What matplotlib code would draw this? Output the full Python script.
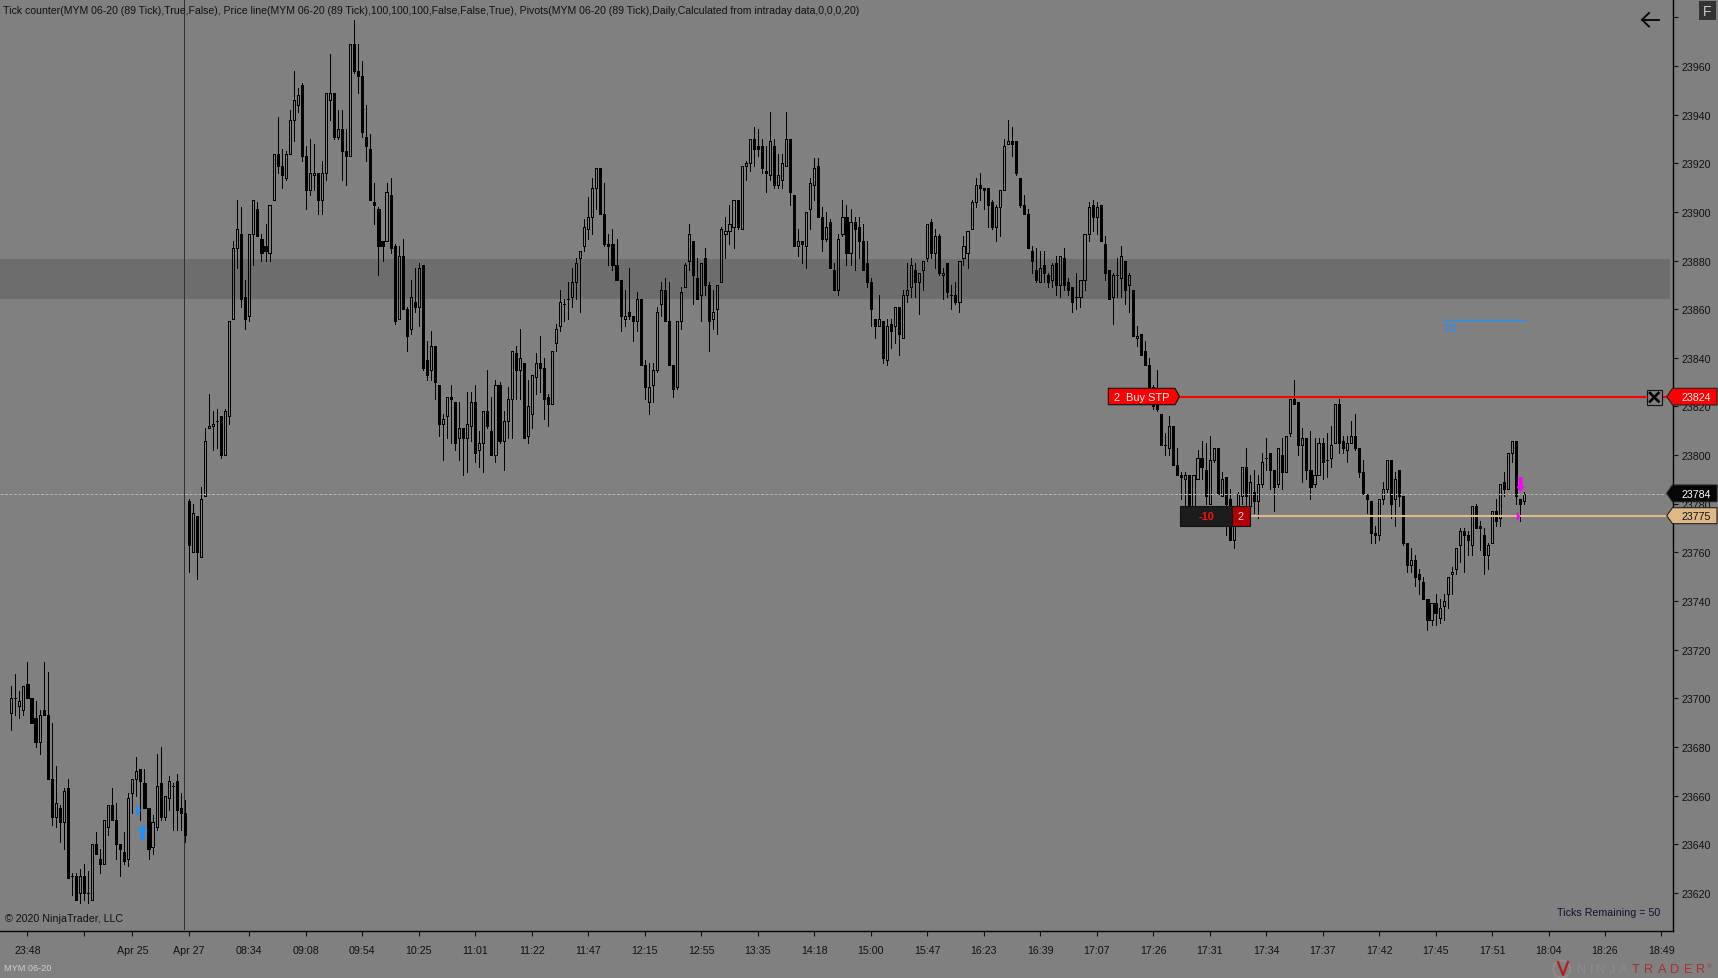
import numpy as np
import matplotlib
matplotlib.use("Agg")
import matplotlib.pyplot as plt
from matplotlib.path import Path
from matplotlib.patches import Polygon, Rectangle, Circle

plt.rcParams["font.family"] = ["Liberation Sans", "DejaVu Sans"]

# MYM 06-20 (89 Tick) candles
opens = [
    23694, 23700, 23697, 23695, 23706, 23700, 23692, 23682, 23695, 23693,
    23667, 23651, 23655, 23649, 23663, 23627, 23627, 23620, 23627, 23620,
    23617, 23640, 23634, 23632, 23647, 23656, 23650, 23640, 23637, 23634,
    23661, 23667, 23671, 23665, 23655, 23639, 23647, 23665, 23651, 23659,
    23664, 23666, 23655, 23653, 23781, 23760, 23775, 23758, 23783, 23811,
    23812, 23814, 23816, 23800, 23816, 23856, 23885, 23891, 23865, 23857,
    23891, 23901, 23889, 23886, 23883, 23905, 23924, 23919, 23914, 23924,
    23938, 23944, 23952, 23923, 23909, 23915, 23916, 23905, 23916, 23946,
    23949, 23931, 23934, 23925, 23923, 23969, 23958, 23956, 23931, 23926,
    23904, 23901, 23888, 23888, 23907, 23886, 23856, 23882, 23860, 23852,
    23863, 23861, 23878, 23839, 23835, 23845, 23829, 23813, 23816, 23824,
    23822, 23807, 23811, 23807, 23812, 23822, 23802, 23805, 23818, 23810,
    23800, 23829, 23806, 23814, 23823, 23842, 23835, 23838, 23808, 23817,
    23832, 23838, 23836, 23824, 23821, 23846, 23853, 23862, 23864, 23865,
    23871, 23881, 23886, 23893, 23898, 23910, 23918, 23899, 23887, 23887,
    23878, 23872, 23856, 23859, 23857, 23855, 23864, 23837, 23822, 23829,
    23835, 23862, 23868, 23855, 23837, 23828, 23855, 23869, 23880, 23888,
    23873, 23866, 23881, 23870, 23856, 23860, 23871, 23891, 23892, 23894,
    23905, 23893, 23919, 23920, 23930, 23927, 23927, 23917, 23915, 23927,
    23911, 23913, 23919, 23930, 23907, 23886, 23888, 23886, 23901, 23911,
    23919, 23898, 23889, 23896, 23876, 23868, 23891, 23898, 23883, 23896,
    23894, 23888, 23879, 23871, 23856, 23853, 23855, 23839, 23854, 23853,
    23861, 23848, 23866, 23869, 23876, 23871, 23876, 23881, 23896, 23883,
    23890, 23874, 23879, 23866, 23866, 23863, 23881, 23883, 23893, 23904,
    23911, 23910, 23910, 23904, 23894, 23902, 23909, 23928, 23929, 23929,
    23914, 23903, 23899, 23884, 23876, 23871, 23878, 23874, 23872, 23879,
    23870, 23881, 23871, 23869, 23865, 23865, 23872, 23891, 23903, 23898,
    23903, 23887, 23876, 23865, 23874, 23873, 23880, 23870, 23868, 23848,
    23850, 23843, 23837, 23828, 23821, 23817, 23804, 23803, 23812, 23796,
    23792, 23790, 23792, 23779, 23790, 23799, 23794, 23780, 23798, 23803,
    23783, 23791, 23782, 23765, 23779, 23783, 23795, 23779, 23785, 23781,
    23788, 23799, 23801, 23794, 23788, 23800, 23793, 23809, 23823, 23822,
    23804, 23807, 23794, 23788, 23792, 23805, 23798, 23799, 23805, 23821,
    23806, 23802, 23805, 23808, 23803, 23793, 23784, 23781, 23768, 23767,
    23782, 23786, 23798, 23782, 23794, 23783, 23764, 23755, 23757, 23751,
    23748, 23741, 23732, 23739, 23733, 23738, 23743, 23751, 23753, 23763,
    23769, 23767, 23763, 23779, 23771, 23767, 23759, 23764, 23777, 23774,
    23789, 23786, 23801, 23806, 23782, 23781,
]
highs = [
    23705, 23710, 23703, 23705, 23715, 23700, 23699, 23695, 23715, 23711,
    23690, 23672, 23656, 23663, 23667, 23628, 23628, 23630, 23632, 23629,
    23640, 23645, 23638, 23650, 23656, 23663, 23657, 23640, 23645, 23661,
    23667, 23676, 23671, 23671, 23655, 23652, 23677, 23680, 23660, 23668,
    23665, 23669, 23661, 23658, 23782, 23780, 23775, 23787, 23811, 23825,
    23818, 23819, 23816, 23819, 23855, 23888, 23905, 23902, 23872, 23891,
    23905, 23904, 23891, 23895, 23903, 23924, 23939, 23926, 23925, 23942,
    23958, 23951, 23953, 23927, 23930, 23928, 23916, 23921, 23949, 23965,
    23949, 23942, 23942, 23934, 23969, 23979, 23969, 23962, 23944, 23932,
    23912, 23902, 23888, 23912, 23914, 23887, 23886, 23889, 23861, 23872,
    23877, 23879, 23878, 23847, 23851, 23845, 23829, 23817, 23824, 23829,
    23822, 23822, 23811, 23826, 23826, 23829, 23810, 23818, 23835, 23824,
    23831, 23830, 23818, 23828, 23843, 23845, 23852, 23838, 23831, 23833,
    23842, 23849, 23840, 23825, 23843, 23854, 23868, 23864, 23871, 23877,
    23881, 23884, 23897, 23906, 23914, 23918, 23918, 23912, 23891, 23893,
    23889, 23872, 23868, 23877, 23857, 23867, 23864, 23839, 23838, 23838,
    23861, 23871, 23873, 23871, 23837, 23855, 23869, 23879, 23895, 23888,
    23881, 23879, 23885, 23871, 23868, 23870, 23894, 23898, 23903, 23905,
    23905, 23919, 23921, 23930, 23935, 23934, 23930, 23927, 23941, 23930,
    23924, 23924, 23941, 23930, 23907, 23893, 23888, 23900, 23914, 23922,
    23922, 23902, 23900, 23897, 23879, 23891, 23905, 23903, 23901, 23898,
    23898, 23895, 23888, 23873, 23856, 23866, 23855, 23856, 23856, 23861,
    23861, 23868, 23879, 23881, 23879, 23875, 23880, 23895, 23897, 23893,
    23891, 23877, 23879, 23870, 23871, 23880, 23890, 23892, 23905, 23914,
    23916, 23910, 23910, 23905, 23903, 23909, 23930, 23938, 23935, 23929,
    23914, 23907, 23901, 23886, 23885, 23884, 23884, 23875, 23879, 23882,
    23882, 23885, 23873, 23869, 23875, 23872, 23891, 23904, 23905, 23904,
    23903, 23890, 23876, 23875, 23881, 23886, 23880, 23875, 23868, 23853,
    23850, 23847, 23840, 23829, 23835, 23817, 23809, 23816, 23812, 23803,
    23793, 23793, 23792, 23792, 23802, 23806, 23805, 23808, 23803, 23803,
    23793, 23791, 23786, 23778, 23785, 23795, 23803, 23792, 23794, 23792,
    23801, 23807, 23801, 23794, 23803, 23807, 23808, 23823, 23831, 23822,
    23811, 23807, 23810, 23807, 23807, 23807, 23809, 23812, 23821, 23823,
    23808, 23808, 23814, 23817, 23803, 23798, 23784, 23781, 23771, 23782,
    23789, 23798, 23798, 23793, 23794, 23783, 23764, 23762, 23759, 23753,
    23750, 23741, 23739, 23743, 23741, 23743, 23750, 23754, 23762, 23770,
    23770, 23769, 23779, 23780, 23773, 23770, 23764, 23777, 23782, 23788,
    23793, 23801, 23806, 23806, 23782, 23785,
]
lows = [
    23687, 23693, 23692, 23693, 23700, 23690, 23680, 23677, 23693, 23667,
    23648, 23647, 23641, 23638, 23626, 23619, 23617, 23616, 23617, 23616,
    23617, 23636, 23628, 23632, 23644, 23650, 23634, 23627, 23632, 23631,
    23653, 23660, 23650, 23655, 23634, 23636, 23646, 23650, 23650, 23654,
    23646, 23646, 23646, 23641, 23752, 23760, 23749, 23758, 23783, 23811,
    23802, 23803, 23799, 23800, 23813, 23856, 23877, 23861, 23852, 23855,
    23878, 23890, 23880, 23880, 23880, 23905, 23916, 23910, 23913, 23924,
    23929, 23941, 23921, 23901, 23907, 23909, 23899, 23899, 23913, 23938,
    23930, 23930, 23913, 23911, 23923, 23957, 23949, 23931, 23921, 23905,
    23895, 23874, 23880, 23888, 23883, 23854, 23856, 23860, 23843, 23850,
    23859, 23853, 23835, 23831, 23831, 23823, 23808, 23798, 23807, 23805,
    23802, 23798, 23792, 23793, 23806, 23797, 23795, 23793, 23811, 23800,
    23797, 23805, 23794, 23807, 23807, 23823, 23823, 23807, 23805, 23811,
    23825, 23826, 23815, 23812, 23821, 23843, 23851, 23855, 23856, 23861,
    23864, 23859, 23884, 23889, 23891, 23901, 23899, 23886, 23878, 23876,
    23872, 23851, 23853, 23856, 23847, 23851, 23837, 23823, 23817, 23822,
    23834, 23857, 23855, 23837, 23824, 23827, 23852, 23869, 23876, 23862,
    23864, 23855, 23866, 23843, 23852, 23850, 23871, 23881, 23887, 23885,
    23893, 23893, 23913, 23917, 23919, 23923, 23916, 23908, 23913, 23910,
    23910, 23910, 23919, 23903, 23886, 23882, 23879, 23877, 23893, 23905,
    23898, 23884, 23888, 23877, 23868, 23866, 23890, 23878, 23878, 23876,
    23881, 23876, 23869, 23853, 23848, 23853, 23838, 23837, 23844, 23846,
    23841, 23848, 23863, 23865, 23865, 23858, 23868, 23880, 23881, 23877,
    23874, 23864, 23865, 23860, 23862, 23859, 23878, 23877, 23893, 23902,
    23905, 23901, 23894, 23893, 23888, 23890, 23909, 23928, 23923, 23915,
    23902, 23899, 23885, 23875, 23871, 23871, 23871, 23869, 23869, 23866,
    23865, 23868, 23866, 23859, 23860, 23861, 23868, 23888, 23892, 23891,
    23888, 23872, 23864, 23854, 23865, 23865, 23862, 23859, 23849, 23845,
    23841, 23837, 23828, 23819, 23818, 23804, 23800, 23800, 23796, 23792,
    23782, 23779, 23779, 23779, 23790, 23790, 23780, 23780, 23797, 23784,
    23783, 23767, 23765, 23762, 23778, 23780, 23778, 23778, 23776, 23774,
    23787, 23794, 23786, 23777, 23787, 23786, 23793, 23808, 23821, 23800,
    23789, 23790, 23782, 23787, 23792, 23790, 23791, 23795, 23805, 23801,
    23801, 23797, 23805, 23802, 23791, 23784, 23776, 23764, 23764, 23765,
    23780, 23785, 23774, 23771, 23779, 23763, 23752, 23752, 23746, 23743,
    23741, 23728, 23730, 23730, 23731, 23732, 23737, 23743, 23751, 23756,
    23752, 23759, 23759, 23770, 23761, 23751, 23753, 23764, 23771, 23771,
    23783, 23786, 23797, 23780, 23773, 23780,
]
closes = [
    23700, 23700, 23699, 23705, 23700, 23690, 23682, 23693, 23693, 23667,
    23651, 23657, 23649, 23662, 23626, 23627, 23617, 23627, 23620, 23620,
    23640, 23636, 23632, 23650, 23656, 23650, 23640, 23638, 23633, 23659,
    23667, 23670, 23666, 23655, 23638, 23649, 23664, 23651, 23660, 23666,
    23664, 23654, 23653, 23644, 23763, 23776, 23760, 23782, 23806, 23812,
    23813, 23814, 23800, 23818, 23855, 23885, 23893, 23864, 23856, 23891,
    23905, 23890, 23883, 23884, 23903, 23924, 23919, 23915, 23924, 23938,
    23946, 23948, 23923, 23909, 23916, 23916, 23905, 23916, 23949, 23949,
    23931, 23934, 23925, 23923, 23969, 23958, 23956, 23933, 23927, 23905,
    23903, 23886, 23886, 23908, 23885, 23855, 23882, 23860, 23849, 23865,
    23861, 23877, 23836, 23833, 23845, 23830, 23813, 23815, 23824, 23823,
    23805, 23811, 23807, 23813, 23822, 23801, 23805, 23818, 23812, 23800,
    23829, 23806, 23814, 23823, 23843, 23835, 23840, 23807, 23820, 23833,
    23838, 23836, 23823, 23821, 23843, 23852, 23863, 23862, 23864, 23871,
    23879, 23884, 23894, 23898, 23910, 23918, 23899, 23887, 23886, 23878,
    23872, 23857, 23857, 23857, 23855, 23864, 23837, 23828, 23828, 23835,
    23859, 23868, 23855, 23837, 23827, 23855, 23867, 23878, 23891, 23874,
    23864, 23879, 23870, 23855, 23859, 23870, 23893, 23892, 23895, 23905,
    23894, 23919, 23920, 23930, 23926, 23926, 23918, 23916, 23929, 23911,
    23915, 23920, 23930, 23908, 23886, 23888, 23887, 23900, 23912, 23918,
    23898, 23889, 23894, 23877, 23868, 23889, 23898, 23883, 23896, 23893,
    23888, 23876, 23871, 23860, 23853, 23856, 23840, 23853, 23851, 23861,
    23850, 23866, 23868, 23878, 23871, 23875, 23880, 23895, 23883, 23890,
    23875, 23875, 23867, 23866, 23863, 23880, 23886, 23892, 23904, 23911,
    23910, 23909, 23903, 23894, 23902, 23909, 23927, 23929, 23928, 23916,
    23903, 23899, 23885, 23880, 23872, 23877, 23875, 23871, 23878, 23870,
    23882, 23870, 23868, 23863, 23865, 23872, 23891, 23902, 23898, 23902,
    23888, 23875, 23864, 23874, 23874, 23882, 23868, 23874, 23849, 23849,
    23841, 23837, 23828, 23820, 23819, 23804, 23804, 23812, 23796, 23792,
    23791, 23792, 23779, 23792, 23799, 23795, 23783, 23798, 23803, 23784,
    23790, 23780, 23765, 23771, 23784, 23795, 23783, 23789, 23781, 23788,
    23797, 23799, 23794, 23787, 23803, 23793, 23808, 23823, 23821, 23804,
    23807, 23794, 23787, 23792, 23805, 23797, 23798, 23804, 23821, 23805,
    23803, 23805, 23808, 23803, 23793, 23784, 23782, 23768, 23767, 23782,
    23786, 23798, 23780, 23790, 23783, 23764, 23755, 23757, 23750, 23749,
    23741, 23732, 23739, 23735, 23737, 23740, 23750, 23752, 23762, 23769,
    23767, 23765, 23779, 23770, 23770, 23759, 23763, 23777, 23773, 23788,
    23786, 23801, 23806, 23783, 23780, 23784,
]

# x axis labels sit on bar slots, the last three are past the final bar
tick_slots = [4, 18, 30, 44, 59, 73, 87, 101, 115, 129, 143, 157, 171, 185, 199, 213,
              227, 241, 255, 269, 283, 297, 311, 325, 339, 353, 367, 381, 395, 409]
tick_labels = ["23:48", "", "Apr 25", "Apr 27", "08:34", "09:08", "09:54", "10:25",
               "11:01", "11:22", "11:47", "12:15", "12:55", "13:35", "14:18", "15:00",
               "15:47", "16:23", "16:39", "17:07", "17:26", "17:31", "17:34", "17:37",
               "17:42", "17:45", "17:51", "18:04", "18:26", "18:49"]
price_ticks = list(range(23620, 23961, 20))

session_break = 42.87
pivot_band = (23864.2, 23880.6)
r1_level = 23855.5
r1_bars = (355.1, 375.2)
stop_price = 23824
last_price = 23784
entry_price = 23775

GREY = "#808080"
W, H = 1718, 979
AX_RIGHT, AX_BOTTOM = 1673.3, 932.3
PX = 0.72  # one pixel in points at dpi 100
font_size = 7.7

fig = plt.figure(figsize=(W / 100, H / 100), dpi=100, facecolor=GREY)
ax = fig.add_axes([0, 1 - AX_BOTTOM / H, AX_RIGHT / W, AX_BOTTOM / H], facecolor=GREY)

step = 4.0346
ax.set_xlim(-11.33 / step, (AX_RIGHT - 11.33) / step)
ax.set_ylim(23960 - (AX_BOTTOM - 67) / 2.432, 23960 + 67 / 2.432)

ax.axhspan(pivot_band[0], pivot_band[1], xmax=1670 / AX_RIGHT, color="#6d6d6d", lw=0, zorder=1)
ax.axvline(session_break, color="#303030", lw=PX, ymin=0.002, zorder=2)

# candles: wicks stop at the body so hollow bodies stay empty
x = np.arange(len(opens))
o, h, l, c = map(np.array, (opens, highs, lows, closes))
body_top = np.maximum(o, c)
body_bot = np.minimum(o, c)
ax.vlines(x, body_top, h, color="black", lw=PX, antialiased=False, zorder=3)
ax.vlines(x, l, body_bot, color="black", lw=PX, antialiased=False, zorder=3)
up = c > o
ax.bar(x[up], (c - o)[up], bottom=o[up], width=0.52, facecolor="none", edgecolor="black",
       lw=PX, antialiased=False, zorder=4)
ax.bar(x[~up], (o - c)[~up], bottom=c[~up], width=0.52, facecolor="black", edgecolor="black",
       lw=PX, antialiased=False, zorder=4)

ax.axhline(last_price, color="#b4b4b4", lw=PX, ls=(0, (3, 1.5)), xmax=1665 / AX_RIGHT, zorder=5)
ax.plot([(1178 - 11.33) / step, (1666 - 11.33) / step], [stop_price] * 2, color="#ff0000", lw=1.5, zorder=5)
ax.plot([(1250 - 11.33) / step, (1666 - 11.33) / step], [entry_price] * 2, color="#deb887", lw=1.5, zorder=5)
ax.plot(r1_bars, [r1_level] * 2, color="#1e90ff", lw=1.0, zorder=5)
ax.text(r1_bars[0], r1_level - 1, "R1", color="#1e90ff", fontsize=7.7, va="top", ha="left", zorder=5)

# trade markers
up_arrow = Path([(-0.28, -1), (0.28, -1), (0.28, 0.25), (0.7, 0.25), (0, 1), (-0.7, 0.25), (-0.28, 0.25), (-0.28, -1)])
down_arrow = Path([(-0.28, 1), (0.28, 1), (0.28, -0.25), (0.6, -0.25), (0, -1), (-0.6, -0.25), (-0.28, -0.25), (-0.28, 1)])
fill_mark = Path([(-0.35, 1), (0.35, 0), (-0.35, -1), (-0.35, 1)])
ax.plot([32.4], [23645], marker=up_arrow, ms=10.8, color="#1e90ff", mew=0, zorder=6)
ax.plot([31.5], [23654], marker=fill_mark, ms=9.4, color="#1e90ff", mew=0, zorder=6)
ax.plot([374], [23788], marker=down_arrow, ms=10.8, color="#ff00ff", mew=0, zorder=6)
ax.plot([373.5], [23775], marker=fill_mark, ms=7.2, color="#ff00ff", mew=0, zorder=6)

for side in ("top", "left"):
    ax.spines[side].set_visible(False)
for side in ("right", "bottom"):
    ax.spines[side].set_color("black")
    ax.spines[side].set_linewidth(1.0)

ax.yaxis.tick_right()
ax.set_yticks(price_ticks + [23980])
ax.set_yticklabels([str(p) for p in price_ticks] + [""])
ax.set_xticks(tick_slots)
ax.set_xticklabels(tick_labels)
ax.tick_params(axis="y", length=3.6, width=0.8, pad=2.2, labelsize=font_size, colors="#111111")
ax.tick_params(axis="x", length=3.6, width=0.8, pad=6.0, labelsize=font_size, colors="#111111")

# everything that floats over the chart, in pixel coordinates
top = fig.add_axes([0, 0, 1, 1], facecolor="none", zorder=10)
top.set_xlim(0, W)
top.set_ylim(H, 0)
top.axis("off")


def flag(y0, y1, fill, label, text_color):
    mid = (y0 + y1) / 2
    pts = [(1666.7, mid), (1672.5, y0), (1717, y0), (1717, y1), (1672.5, y1)]
    top.add_patch(Polygon(pts, closed=True, facecolor=fill, edgecolor="#222222", lw=0.8))
    top.text(1682, mid + 0.3, label, color=text_color, fontsize=font_size, va="center", ha="left")


flag(389.3, 406, "#ff0000", str(stop_price), "white")
flag(486, 502.7, "#050505", str(last_price), "white")
flag(508.7, 524.7, "#deb887", str(entry_price), "#111111")

# stop order label
pts = [(1108.3, 389.3), (1175, 389.3), (1179.5, 397.5), (1175, 405.7), (1108.3, 405.7)]
top.add_patch(Polygon(pts, closed=True, facecolor="#ff0000", edgecolor="#111111", lw=0.8))
top.text(1114.5, 397.6, "2  Buy STP", color="white", fontsize=7.9, va="center", ha="left")

# position label
top.add_patch(Rectangle((1180, 507.3), 51.7, 19.4, facecolor="#1c1c1c", edgecolor="#111111", lw=0.8))
top.add_patch(Rectangle((1231.7, 507.3), 18, 19.4, facecolor="#b30000", edgecolor="#111111", lw=0.8))
top.text(1206.5, 517.2, "-10", color="#ff1010", fontsize=7.9, fontweight="bold", va="center", ha="center")
top.text(1240.7, 517.2, "2", color="#d8d8d8", fontsize=7.9, va="center", ha="center")

# close order button
top.add_patch(Rectangle((1646.5, 390.5), 15, 15.5, facecolor=GREY, edgecolor="#111111", lw=0.8))
top.plot([1650, 1658.5], [394, 402.5], color="black", lw=1.9)
top.plot([1650, 1658.5], [402.5, 394], color="black", lw=1.9)

# F button and back arrow
top.add_patch(Rectangle((1699, 2), 16.7, 18.7, facecolor="#333333", edgecolor="none"))
top.text(1707.3, 11.5, "F", color="#c8c8c8", fontsize=10, va="center", ha="center")
top.plot([1642, 1659], [20.7, 20.7], color="black", lw=1.3)
top.plot([1649, 1642, 1649], [14, 20.7, 27.5], color="black", lw=1.3)

# captions
top.text(3, 11, "Tick counter(MYM 06-20 (89 Tick),True,False), Price line(MYM 06-20 (89 Tick),100,100,100,False,False,True), "
         "Pivots(MYM 06-20 (89 Tick),Daily,Calculated from intraday data,0,0,0,20)",
         color="#111111", fontsize=7.55, va="center", ha="left")
top.text(5, 919, "\u00a9 2020 NinjaTrader, LLC", color="#111111", fontsize=font_size, va="center", ha="left")
top.text(1660, 913, "Ticks Remaining = 50", color="#111133", fontsize=font_size, va="center", ha="right")
top.text(4, 969, "MYM 06-20", color="#d0d0d0", fontsize=6.6, va="center", ha="left")

# NinjaTrader logo, the NINJA part is barely lighter than the background
top.add_patch(Circle((1561.7, 970), 8.5, facecolor="none", edgecolor="#9a8a8a", lw=1.2))
top.plot([1558, 1563, 1568], [963, 976, 963], color="#b02020", lw=1.6)
logo_x = 1577.0
for ch, colour, adv in zip("NINJATRADER", ["#8c8c8c"] * 5 + ["#a83030"] * 6,
                           [13, 6, 13, 10, 12.5, 12.8, 13.3, 12.8, 13.3, 12.5, 13]):
    top.text(logo_x, 970, ch, color=colour, fontsize=9.2, va="center", ha="left")
    logo_x += adv
top.text(logo_x - 2, 967, "\u00ae", color="#a83030", fontsize=4.5, va="center", ha="left")

fig.savefig("out.png", dpi=100, facecolor=GREY)
